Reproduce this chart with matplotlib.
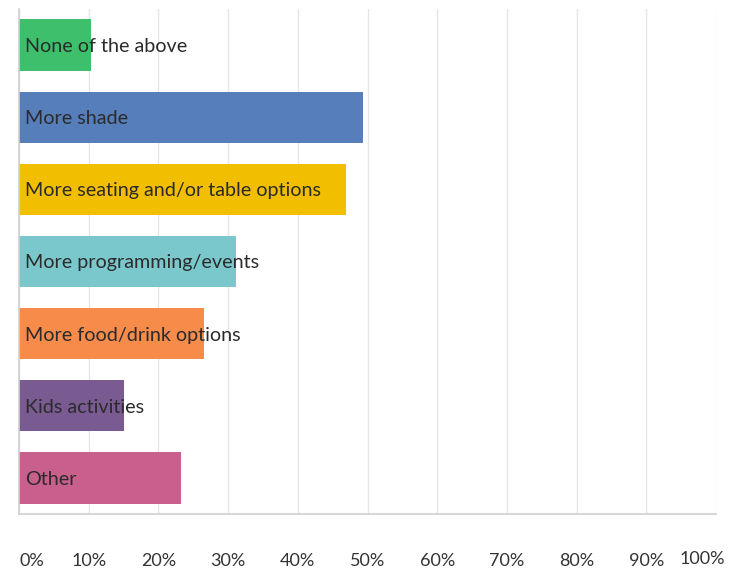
import matplotlib.pyplot as plt
from matplotlib.transforms import ScaledTranslation

# survey answers, top to bottom
categories = ['None of the above', 'More shade', 'More seating and/or table options',
              'More programming/events', 'More food/drink options', 'Kids activities', 'Other']
percent = [10.3, 49.4, 46.9, 31.1, 26.6, 15.0, 23.2]
colors = ['#3dbf6b', '#557eba', '#f2be00', '#7bc8cc', '#f68b4a', '#7a5b91', '#c95f8d']
ticks = list(range(0, 101, 10))
tick_labels = [f'{t}%' for t in ticks]

plt.rcParams['font.family'] = ['Lato', 'DejaVu Sans']

fig = plt.figure(figsize=(7.35, 5.71), dpi=100)
ax = fig.add_axes([19 / 735, 57 / 571, 697 / 735, 505 / 571])

ypos = list(range(len(categories)))
ax.barh(ypos, percent, height=0.71, color=colors, zorder=2)

for y, lab in zip(ypos, categories):
    ax.text(0.9, y + 0.02, lab, va='center', ha='left', fontsize=14.2, color='#2b2b2b', zorder=3)

ax.set_xlim(0, 100)
ax.set_ylim(len(categories) - 0.5, -0.5)
ax.set_yticks([])
ax.set_xticks(ticks)
ax.set_xticklabels(tick_labels, fontsize=13, color='#333333')
ax.tick_params(axis='x', length=0, pad=28)

# keep the end labels inside the figure
labels = ax.get_xticklabels()
labels[0].set_ha('left')
last = labels[-1]
last.set_transform(last.get_transform() + ScaledTranslation(-0.14, 0.02, fig.dpi_scale_trans))

ax.xaxis.grid(True, color='#e6e6e6', linewidth=1, zorder=0)

for side in ['top', 'right']:
    ax.spines[side].set_visible(False)
ax.spines['left'].set_color('#d0d0d0')
ax.spines['bottom'].set_color('#d0d0d0')
ax.spines['left'].set_linewidth(1.2)
ax.spines['bottom'].set_linewidth(1.2)

fig.savefig('out.png', dpi=100)
